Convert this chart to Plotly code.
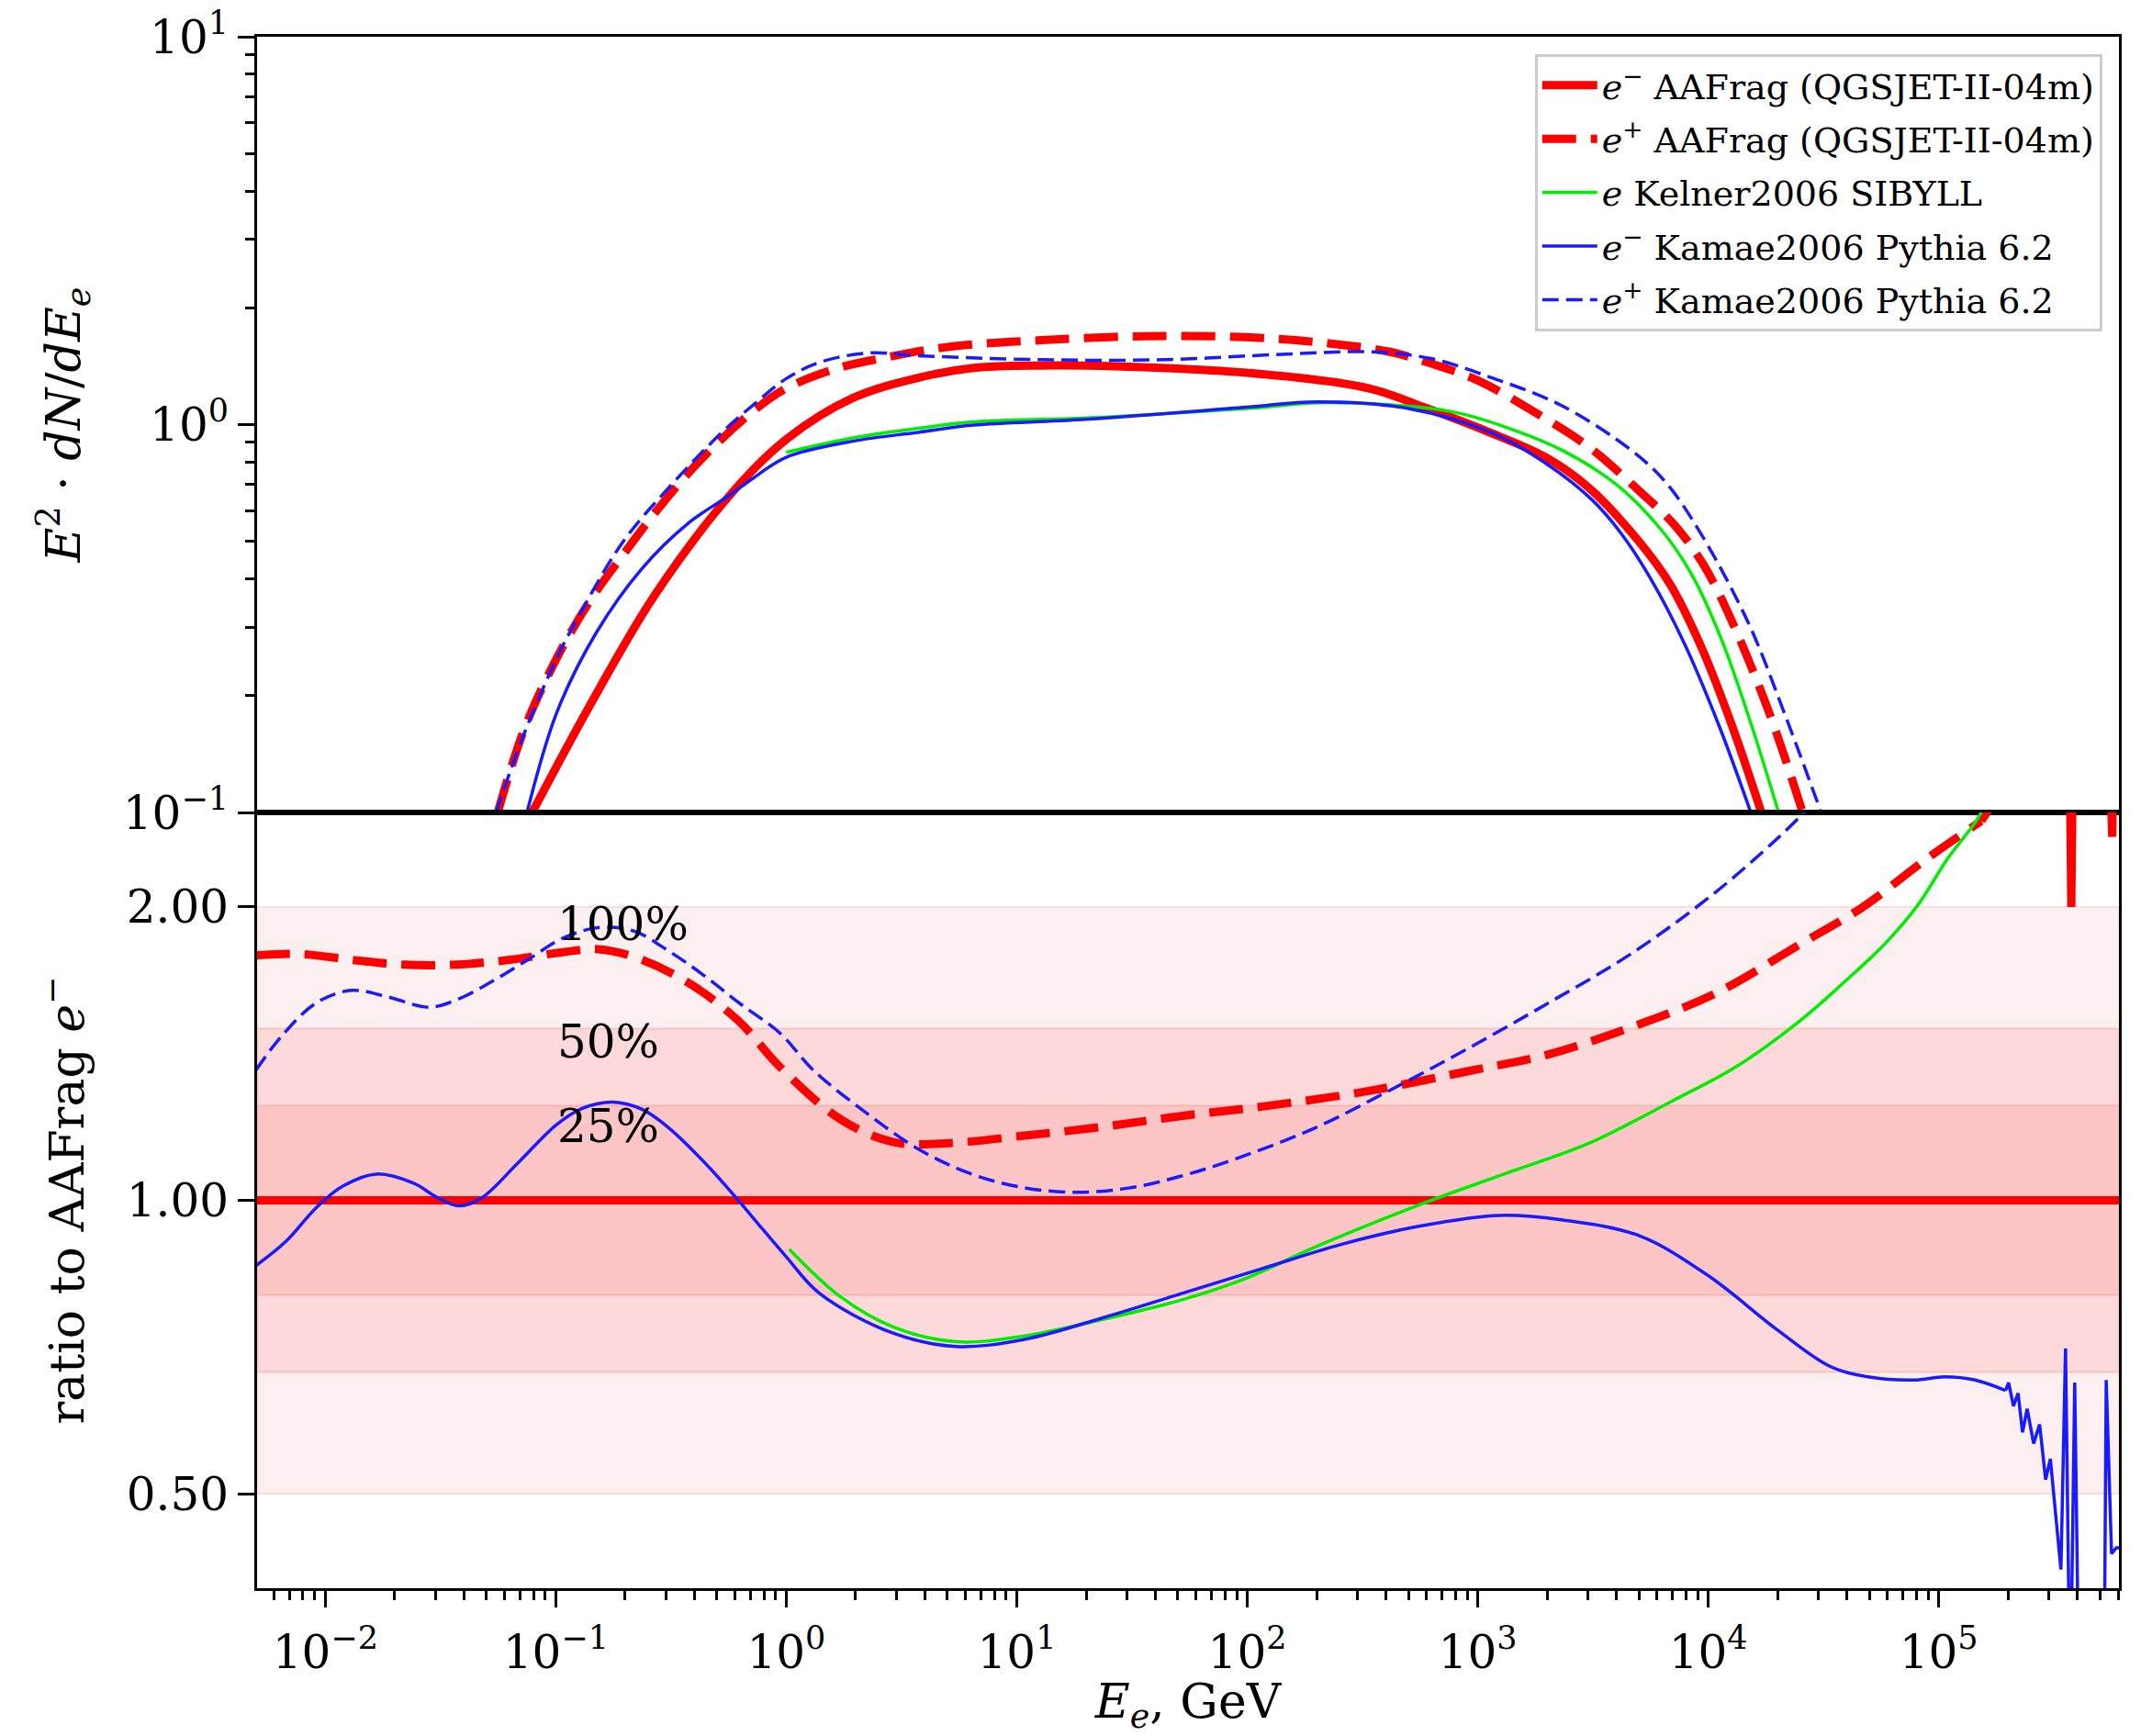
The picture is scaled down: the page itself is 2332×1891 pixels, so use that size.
import math
import plotly.graph_objects as go
from plotly.subplots import make_subplots

# ---------------- top panel: E^2 dN/dE ----------------
E_em_aafrag = [0.079, 0.14, 0.27, 0.59, 1.0, 1.94, 3.73, 6.5, 12.8, 30, 99, 338, 580, 1100, 2000, 3100, 5000, 6840, 9330, 12700, 17000]
F_em_aafrag = [0.10, 0.188, 0.365, 0.674, 0.916, 1.17, 1.32, 1.40, 1.42, 1.41, 1.36, 1.24, 1.11, 0.96, 0.82, 0.68, 0.50, 0.387, 0.267, 0.167, 0.10]

E_ep_aafrag = [0.056, 0.073, 0.101, 0.141, 0.195, 0.289, 0.443, 0.723, 1.0, 1.64, 2.69, 5.2, 12.8, 35.6, 99, 225, 416, 620, 1000, 1750, 3000, 5000, 7160, 9500, 12400, 18500, 25700]
F_ep_aafrag = [0.10, 0.164, 0.25, 0.352, 0.46, 0.624, 0.832, 1.086, 1.24, 1.393, 1.489, 1.59, 1.65, 1.69, 1.68, 1.62, 1.54, 1.44, 1.30, 1.08, 0.88, 0.676, 0.55, 0.437, 0.32, 0.179, 0.10]

E_e_kelner = [1.0, 1.94, 3.73, 6.5, 20, 99, 225, 770, 1420, 2310, 4000, 6340, 8490, 11400, 15200, 20200]
F_e_kelner = [0.848, 0.924, 0.978, 1.016, 1.04, 1.10, 1.14, 1.08, 0.97, 0.86, 0.70, 0.53, 0.41, 0.28, 0.172, 0.10]

E_em_kamae = [0.075, 0.101, 0.15, 0.237, 0.376, 0.575, 0.72, 1.0, 1.94, 3.73, 6.5, 19.2, 99, 200, 500, 1160, 2000, 3130, 4130, 5620, 7940, 11200, 15300]
F_em_kamae = [0.10, 0.181, 0.291, 0.426, 0.557, 0.661, 0.728, 0.824, 0.906, 0.955, 0.997, 1.03, 1.109, 1.145, 1.10, 0.95, 0.79, 0.64, 0.53, 0.401, 0.27, 0.166, 0.10]

E_ep_kamae = [0.055, 0.073, 0.101, 0.119, 0.195, 0.318, 0.521, 0.723, 1.0, 1.4, 2.28, 3.73, 12.8, 43.6, 149, 339, 627, 1160, 2310, 4620, 6500, 9140, 14900, 21500, 30900]
F_ep_kamae = [0.10, 0.16, 0.25, 0.302, 0.497, 0.70, 0.95, 1.127, 1.314, 1.448, 1.53, 1.505, 1.47, 1.47, 1.52, 1.54, 1.48, 1.318, 1.12, 0.86, 0.713, 0.532, 0.309, 0.179, 0.10]

# ---------------- bottom panel: ratio to AAFrag e- ----------------
R_E_ref = [0.005, 6.1e5]
R_ref = [1.0, 1.0]

R_E_ep_aafrag = [0.005, 0.0077, 0.013, 0.022, 0.037, 0.063, 0.107, 0.152, 0.217, 0.367, 0.622, 0.94, 1.71, 2.89, 4.9,
                 10.8, 23.8, 52.5, 116, 332, 953, 1990, 4620, 10740, 24900, 46900, 88500, 153000]
R_ep_aafrag = [1.784, 1.79, 1.765, 1.745, 1.745, 1.765, 1.797, 1.81, 1.778, 1.678, 1.527, 1.37, 1.212, 1.148, 1.144,
               1.165, 1.19, 1.221, 1.248, 1.294, 1.36, 1.41, 1.505, 1.63, 1.83, 2.0, 2.24, 2.45]
R_E_ep_aafrag_tail = [153000, 200000, 370000, 376000, 382000, 550000, 556000, 566000, 572000, 6.1e5]
R_ep_aafrag_tail = [2.45, 2.7, 2.9, 2.0, 2.9, 2.9, 2.36, 2.36, 2.9, 2.9]

R_E_kelner = [1.03, 1.71, 2.89, 5.45, 10.8, 23.8, 52.5, 99, 196, 562, 1300, 3030, 7050, 13200, 24900, 38000, 58000, 81300, 109000, 147000, 165000]
R_kelner = [0.891, 0.797, 0.742, 0.716, 0.726, 0.755, 0.791, 0.832, 0.895, 0.99, 1.064, 1.144, 1.266, 1.371, 1.527, 1.666, 1.83, 2.01, 2.24, 2.46, 2.6]

R_E_em_kamae = [0.005, 0.00676, 0.00914, 0.0119, 0.0166, 0.0242, 0.0303, 0.038, 0.0475, 0.0692, 0.1005, 0.131, 0.177, 0.238,
                0.31, 0.451, 0.608, 0.79, 1.0, 1.39, 2.89, 5.45, 10.8, 23.8, 52.5, 116, 255, 562, 1240, 2310, 5000,
                10000, 20000, 34000, 49300, 78000, 106000, 144000, 195000]
R_em_kamae = [0.857, 0.908, 0.983, 1.034, 1.064, 1.041, 1.008, 0.987, 1.005, 1.095, 1.195, 1.243, 1.261, 1.239,
              1.186, 1.088, 1.005, 0.934, 0.875, 0.803, 0.731, 0.708, 0.72, 0.758, 0.803, 0.851, 0.901, 0.941, 0.965, 0.955, 0.92,
              0.837, 0.736, 0.675, 0.659, 0.654, 0.659, 0.654, 0.638]
R_E_em_kamae_tail = [195000, 201000, 211000, 221000, 231000, 242000, 258000, 274000, 291000, 305000, 339000, 355000,
                     372000, 389000, 407000, 521000, 533000, 562000, 589000, 6.1e5]
R_em_kamae_tail = [0.638, 0.650, 0.615, 0.634, 0.578, 0.611, 0.563, 0.589, 0.517, 0.543, 0.418, 0.705,
                   0.30, 0.65, 0.30, 0.30, 0.654, 0.434, 0.44, 0.44]

R_E_ep_kamae = [0.005, 0.00645, 0.00916, 0.013, 0.0185, 0.0282, 0.0374, 0.0531, 0.0755, 0.107, 0.152, 0.217, 0.308,
                0.438, 0.622, 0.94, 1.31, 2.22, 3.76, 6.37, 10.8, 18.3, 31, 52.5, 89, 196, 432, 900, 1990, 4620,
                10740, 20200, 26000, 30000]
R_ep_kamae = [1.36, 1.473, 1.595, 1.642, 1.618, 1.578, 1.607, 1.678, 1.765, 1.857, 1.904, 1.89, 1.803,
              1.702, 1.595, 1.484, 1.36, 1.23, 1.128, 1.064, 1.03, 1.019, 1.03, 1.06, 1.103, 1.186, 1.303, 1.43, 1.59, 1.79,
              2.07, 2.357, 2.50, 2.6]

# uncertainty bands (lower, upper) and labels
band_lo = [0.5, 1 / 1.5, 0.8]
band_hi = [2.0, 1.5, 1.25]
band_fill = ["#fcefef", "#fdd9d9", "#fcc6c6"]
band_edge = ["#fadcdc", "#f9c4c4", "#f8b4b4"]
band_labels = ["100%", "50%", "25%"]
band_label_y = [1.92, 1.455, 1.19]
band_label_x = 0.1

x_tick_vals = [1e-2, 1e-1, 1e0, 1e1, 1e2, 1e3, 1e4, 1e5]
x_tick_text = ["10<sup>−2</sup>", "10<sup>−1</sup>", "10<sup>0</sup>", "10<sup>1</sup>", "10<sup>2</sup>",
               "10<sup>3</sup>", "10<sup>4</sup>", "10<sup>5</sup>"]
y1_tick_vals = [0.1, 1, 10]
y1_tick_text = ["10<sup>−1</sup>", "10<sup>0</sup>", "10<sup>1</sup>"]
y2_tick_vals = [0.5, 1.0, 2.0]
y2_tick_text = ["0.50", "1.00", "2.00"]

RED = "#ff0000"
BLUE = "#1a1aff"
GREEN = "#00ee00"
FONT = "DejaVu Serif"

x_minor = [m * 10.0 ** d for d in range(-3, 6) for m in range(2, 10)]
y1_minor = [m * 10.0 ** d for d in range(-1, 1) for m in range(2, 10)]

fig = make_subplots(rows=2, cols=1, shared_xaxes=True, vertical_spacing=0)

red_solid = dict(color=RED, width=9)
red_dash = dict(color=RED, width=9, dash="37px,16px")
green_l = dict(color=GREEN, width=3.5)
blue_l = dict(color=BLUE, width=3.5)
blue_dash = dict(color=BLUE, width=3.5, dash="18px,8px")

# top panel
fig.add_trace(go.Scatter(x=E_em_aafrag, y=F_em_aafrag, mode="lines", line=dict(**red_solid, shape="spline"),
                         legendgroup="g1", name="<i>e</i><sup>−</sup> AAFrag (QGSJET-II-04m)"), row=1, col=1)
fig.add_trace(go.Scatter(x=E_ep_aafrag, y=F_ep_aafrag, mode="lines", line=dict(**red_dash, shape="spline"),
                         legendgroup="g2", name="<i>e</i><sup>+</sup> AAFrag (QGSJET-II-04m)"), row=1, col=1)
fig.add_trace(go.Scatter(x=E_e_kelner, y=F_e_kelner, mode="lines", line=dict(**green_l, shape="spline"),
                         legendgroup="g3", name="<i>e</i> Kelner2006 SIBYLL"), row=1, col=1)
fig.add_trace(go.Scatter(x=E_em_kamae, y=F_em_kamae, mode="lines", line=dict(**blue_l, shape="spline"),
                         legendgroup="g4", name="<i>e</i><sup>−</sup> Kamae2006 Pythia 6.2"), row=1, col=1)
fig.add_trace(go.Scatter(x=E_ep_kamae, y=F_ep_kamae, mode="lines", line=dict(**blue_dash, shape="spline"),
                         legendgroup="g5", name="<i>e</i><sup>+</sup> Kamae2006 Pythia 6.2"), row=1, col=1)

# bottom panel
fig.add_trace(go.Scatter(x=R_E_ref, y=R_ref, mode="lines", line=red_solid, showlegend=False), row=2, col=1)
fig.add_trace(go.Scatter(x=R_E_ep_aafrag, y=R_ep_aafrag, mode="lines", line=dict(**red_dash, shape="spline"),
                         showlegend=False), row=2, col=1)
fig.add_trace(go.Scatter(x=R_E_ep_aafrag_tail, y=R_ep_aafrag_tail, mode="lines", line=dict(color=RED, width=9),
                         showlegend=False), row=2, col=1)
fig.add_trace(go.Scatter(x=R_E_kelner, y=R_kelner, mode="lines", line=dict(**green_l, shape="spline"),
                         showlegend=False), row=2, col=1)
fig.add_trace(go.Scatter(x=R_E_em_kamae, y=R_em_kamae, mode="lines", line=dict(**blue_l, shape="spline"),
                         showlegend=False), row=2, col=1)
fig.add_trace(go.Scatter(x=R_E_em_kamae_tail, y=R_em_kamae_tail, mode="lines", line=blue_l,
                         showlegend=False), row=2, col=1)
fig.add_trace(go.Scatter(x=R_E_ep_kamae, y=R_ep_kamae, mode="lines", line=dict(**blue_dash, shape="spline"),
                         showlegend=False), row=2, col=1)

for lo, hi, fc, ec in zip(band_lo, band_hi, band_fill, band_edge):
    fig.add_shape(type="rect", xref="x2 domain", yref="y2", x0=0, x1=1, y0=lo, y1=hi,
                  fillcolor=fc, line=dict(color=ec, width=2), layer="below")

for lab, yv in zip(band_labels, band_label_y):
    fig.add_annotation(x=math.log10(band_label_x), y=math.log10(yv), xref="x2", yref="y2", text=lab,
                       showarrow=False, xanchor="left", yanchor="middle",
                       font=dict(family=FONT, size=50, color="black"))

axis_common = dict(showline=True, linecolor="black", linewidth=3, mirror=True, showgrid=False, zeroline=False,
                   tickfont=dict(family=FONT, size=50, color="black"), ticks="outside", ticklen=18,
                   tickwidth=3, tickcolor="black")

fig.update_xaxes(type="log", range=[-2.296, 5.782], **axis_common)
fig.update_xaxes(row=1, col=1, ticks="", showticklabels=False)
fig.update_xaxes(row=2, col=1, tickmode="array", tickvals=x_tick_vals, ticktext=x_tick_text,
                 ticklabelstandoff=6,
                 minor=dict(tickmode="array", tickvals=x_minor, ticks="outside", ticklen=10, tickwidth=2.5,
                            tickcolor="black"),
                 title=dict(text="<i>E</i><sub><i>e</i></sub>, GeV", font=dict(family=FONT, size=52, color="black"),
                            standoff=22))
fig.update_yaxes(row=1, col=1, type="log", range=[-1, 1], tickmode="array", tickvals=y1_tick_vals,
                 ticktext=y1_tick_text,
                 minor=dict(tickmode="array", tickvals=y1_minor, ticks="outside", ticklen=10, tickwidth=2.5,
                            tickcolor="black"),
                 title=dict(text="<i>E</i><sup>2</sup> · <i>dN</i>/<i>dE</i><sub><i>e</i></sub>",
                            font=dict(family=FONT, size=52, color="black"), standoff=30),
                 **axis_common)
fig.update_yaxes(row=2, col=1, type="log", range=[math.log10(0.4), math.log10(2.5)], tickmode="array",
                 tickvals=y2_tick_vals, ticktext=y2_tick_text,
                 title=dict(text="ratio to AAFrag <i>e</i><sup>−</sup>",
                            font=dict(family=FONT, size=52, color="black"), standoff=30),
                 **axis_common)

fig.update_layout(
    width=2332, height=1891,
    margin=dict(l=280, r=24, t=40, b=161, autoexpand=False),
    paper_bgcolor="white", plot_bgcolor="white",
    font=dict(family=FONT, color="black"),
    legend=dict(x=0.991, y=0.989, xanchor="right", yanchor="top", bgcolor="rgba(255,255,255,0.9)",
                bordercolor="#cccccc", borderwidth=3, font=dict(family=FONT, size=38, color="black"),
                itemwidth=60, tracegroupgap=6),
)

fig.write_html("out.html")
